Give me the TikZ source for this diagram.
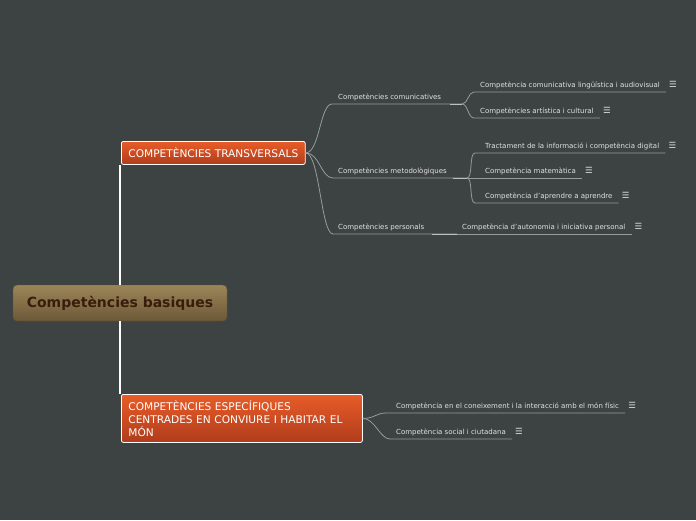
\documentclass[tikz,border=0pt]{standalone}
\usepackage{fontspec}
\setmainfont{DejaVu Sans}
\usetikzlibrary{positioning}
\definecolor{bgdark}{RGB}{61,67,67}
\definecolor{orangetop}{RGB}{232,92,40}
\definecolor{orangebot}{RGB}{176,60,28}
\definecolor{roottop}{RGB}{156,133,88}
\definecolor{rootbot}{RGB}{108,88,56}
\definecolor{rootedge}{RGB}{96,80,54}
\definecolor{rootink}{RGB}{58,28,12}
\definecolor{leafink}{RGB}{226,226,226}
\definecolor{linegray}{RGB}{150,155,155}
\definecolor{linelight}{RGB}{190,192,192}

\begin{document}
\begin{tikzpicture}[x=1pt, y=-1pt,
  root/.style={rectangle, rounded corners=4pt, draw=rootedge, top color=roottop,
               bottom color=rootbot, minimum width=214pt, minimum height=36pt,
               text=rootink, font=\fontsize{14}{16}\selectfont\bfseries},
  topic/.style={rectangle, rounded corners=2pt, draw=white, line width=0.8pt,
                top color=orangetop, bottom color=orangebot, text=white,
                inner xsep=7pt, anchor=north west, font=\fontsize{10.6}{13}\selectfont},
  sub/.style={inner xsep=0pt, inner ysep=2pt, text height=5pt, text depth=2pt,
              anchor=south west, text=leafink, font=\fontsize{7}{8}\selectfont},
  menu/.style={anchor=base west, inner sep=0pt, text=leafink,
               font=\fontsize{8.5}{8.5}\selectfont},
  conn/.style={draw=linegray, line width=0.8pt},
  hi/.style={draw=linelight, line width=1pt},
  trunk/.style={draw=white, line width=2.5pt}]

\useasboundingbox[fill=bgdark] (0,0) rectangle (696,520);

\node[root] (root) at (120,303) {Competències basiques};
\node[topic, minimum height=23pt] (trans) at (121,141) {COMPETÈNCIES TRANSVERSALS};
\node[topic, align=left, text width=227pt, minimum height=48pt] (spec) at (121,394)
  {COMPETÈNCIES ESPECÍFIQUES\\CENTRADES EN CONVIURE I HABITAR EL\\MÓN};

\node[sub] (comm) at (338,104) {Competències comunicatives};
\node[sub] (metod) at (338,178) {Competències metodològiques};
\node[sub] (pers) at (338,234) {Competències personals};

\node[sub] (lingu) at (480,92) {Competència comunicativa lingüística i audiovisual};
\node[sub] (artis) at (480,118) {Competències artística i cultural};
\node[sub] (infor) at (485,153) {Tractament de la informació i competència digital};
\node[sub] (matem) at (485,178) {Competència matemàtica};
\node[sub] (aprend) at (485,203) {Competència d'aprendre a aprendre};
\node[sub] (auton) at (462,234) {Competència d'autonomia i iniciativa personal};
\node[sub] (fisic) at (396,413) {Competència en el coneixement i la interacció amb el món físic};
\node[sub] (social) at (396,439) {Competència social i ciutadana};

\foreach \n in {lingu,artis,infor,matem,aprend,auton,fisic,social}
  \node[menu] (\n-menu) at ([xshift=9pt]\n.base east) {☰};

\coordinate (commsplit) at (462,104);
\coordinate (metodsplit) at (467,178);
\coordinate (perssplit) at (457,234);

\draw[trunk] (root.north) -- (root.north |- trans.south);
\draw[trunk] (root.south) -- (root.south |- spec.north);

\draw[conn] (trans.east) .. controls +(14,0) and +(-12,0) .. ([xshift=-6pt]comm.south west) -- (commsplit);
\draw[conn] (trans.east) .. controls +(14,0) and +(-12,0) .. ([xshift=-5pt]metod.south west) -- (metodsplit);
\draw[conn] (trans.east) .. controls +(14,0) and +(-12,0) .. ([xshift=-5pt]pers.south west) -- (perssplit);
\draw[hi] ([xshift=-12pt]commsplit) -- (commsplit);
\draw[hi] ([xshift=-14pt]metodsplit) -- (metodsplit);
\draw[hi] ([xshift=-25pt]perssplit) -- (perssplit);

\draw[conn] (commsplit) .. controls +(6,0) and +(-6,0) .. ([xshift=-6pt]lingu.south west) -- ([xshift=6pt]lingu.south east);
\draw[conn] (commsplit) .. controls +(6,0) and +(-6,0) .. ([xshift=-6pt]artis.south west) -- ([xshift=6pt]artis.south east);
\draw[conn] (metodsplit) .. controls +(6,0) and +(-6,0) .. ([xshift=-10pt]infor.south west) -- ([xshift=6pt]infor.south east);
\draw[conn] (metodsplit) -- ([xshift=6pt]matem.south east);
\draw[conn] (metodsplit) .. controls +(6,0) and +(-6,0) .. ([xshift=-10pt]aprend.south west) -- ([xshift=6pt]aprend.south east);
\draw[conn] (perssplit) -- ([xshift=6pt]auton.south east);

\draw[conn] (spec.east) .. controls +(12,0) and +(-10,0) .. ([xshift=-10pt]fisic.south west) -- ([xshift=6pt]fisic.south east);
\draw[conn] (spec.east) .. controls +(12,0) and +(-10,0) .. ([xshift=-6pt]social.south west) -- ([xshift=6pt]social.south east);
\end{tikzpicture}
\end{document}
